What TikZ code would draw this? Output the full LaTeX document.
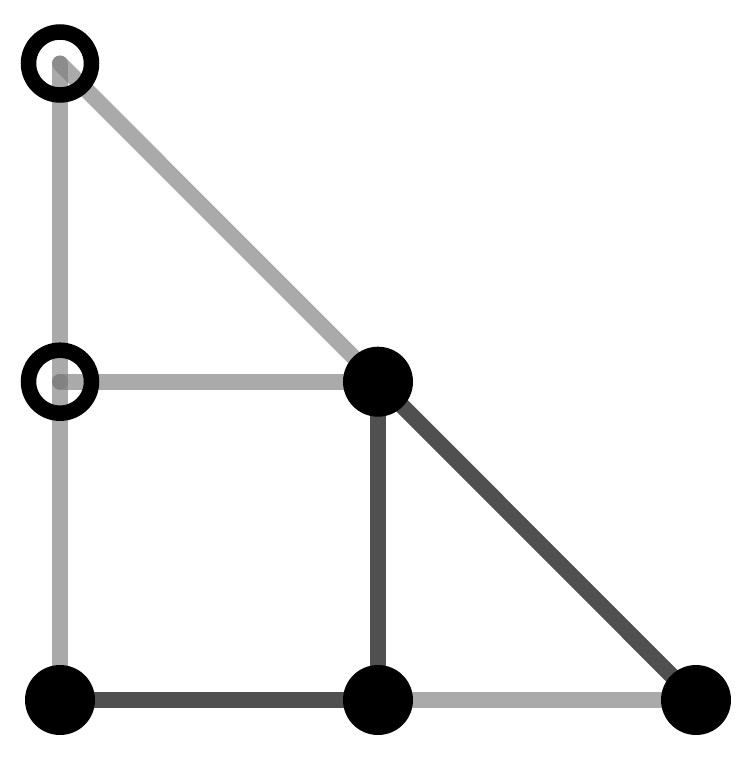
\documentclass[tikz,border=0pt]{standalone}
\begin{document}
\begin{tikzpicture}[x=1pt,y=-1pt,
  lightedge/.style={draw={rgb,255:red,124;green,124;blue,124},opacity=0.65,line width=16pt,line cap=round},
  darkedge/.style={draw={rgb,255:red,80;green,80;blue,80},line width=16pt,line cap=round},
  ring/.style={draw=black,line width=15.5pt},
  fullv/.style={circle,fill=black,minimum size=70pt,inner sep=0pt}]
\useasboundingbox (0,0) rectangle (753,763);
\coordinate (a) at (60,63.5);
\coordinate (b) at (60,381.7);
\coordinate (c) at (378,381.7);
\coordinate (d) at (60,700);
\coordinate (e) at (378,700);
\coordinate (f) at (696,700);
\draw[lightedge] (a) -- (b);
\draw[lightedge] (b) -- (d);
\draw[lightedge] (a) -- (c);
\draw[lightedge] (b) -- (c);
\draw[lightedge] (e) -- (f);
\draw[darkedge] (d) -- (e);
\draw[darkedge] (c) -- (e);
\draw[darkedge] (c) -- (f);
\draw[ring] (a) circle[radius=31.5pt];
\draw[ring] (b) circle[radius=31.5pt];
\node[fullv] (nc) at (c) {};
\node[fullv] (nd) at (d) {};
\node[fullv] (ne) at (e) {};
\node[fullv] (nf) at (f) {};
\end{tikzpicture}
\end{document}
